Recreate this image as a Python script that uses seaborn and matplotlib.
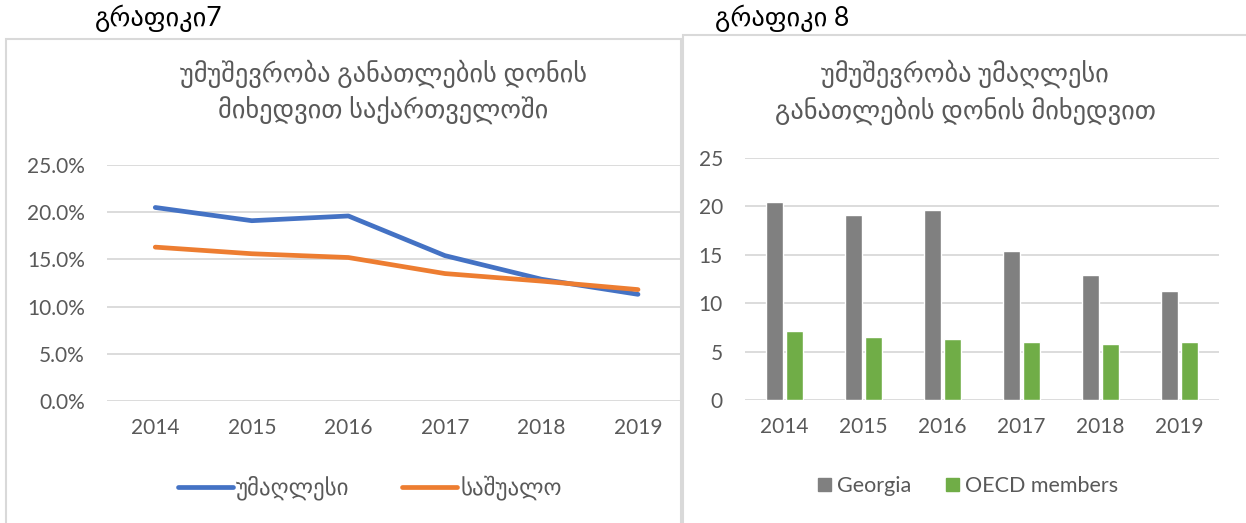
import pandas as pd
import numpy as np
import matplotlib.pyplot as plt
import seaborn as sns
from matplotlib.patches import Rectangle

sns.set_theme(style="white")
plt.rcParams['font.family'] = ['Lato', 'DejaVu Sans']

# data
years = ['2014', '2015', '2016', '2017', '2018', '2019']
umaghlesi = [20.5, 19.1, 19.6, 15.4, 12.9, 11.3]   # უმაღლესი, %
sashualo = [16.3, 15.6, 15.2, 13.5, 12.7, 11.8]    # საშუალო, %
georgia = [20.5, 19.1, 19.6, 15.4, 12.9, 11.3]
oecd = [7.1, 6.5, 6.3, 6.0, 5.8, 6.0]

line_names = ['უმაღლესი', 'საშუალო']
bar_names = ['Georgia', 'OECD members']

gray_txt = '#595959'
grid_c = '#d9d9d9'

df_line = pd.DataFrame({
    'year': years * 2,
    'x': list(range(len(years))) * 2,
    'val': [v / 100 for v in umaghlesi + sashualo],
    'group': [line_names[0]] * 6 + [line_names[1]] * 6,
})
df_bar = pd.DataFrame({
    'year': years * 2,
    'val': georgia + oecd,
    'group': [bar_names[0]] * 6 + [bar_names[1]] * 6,
})

fig = plt.figure(figsize=(12.46, 5.23), dpi=100)

# ramki
fig.patches.append(Rectangle((6 / 1246, -0.01), (681 - 6) / 1246, 1 - 39 / 523 + 0.01,
                             transform=fig.transFigure, fill=False, ec=grid_c, lw=1.5))
fig.patches.append(Rectangle((683 / 1246, -0.01), 0.5, 1 - 35 / 523 + 0.01,
                             transform=fig.transFigure, fill=False, ec=grid_c, lw=1.5))
fig.text(95 / 1246, 1 - 18 / 523, 'გრაფიკი7', fontsize=19, color='black', va='center')
fig.text(715 / 1246, 1 - 18 / 523, 'გრაფიკი 8', fontsize=19, color='black', va='center')

# lewy: wykres liniowy
ax1 = fig.add_axes([107 / 1246, 122 / 523, (680 - 107) / 1246, (401 - 165) / 523])
sns.lineplot(data=df_line, x='x', y='val', hue='group', ax=ax1,
             palette=['#4472C4', '#ED7D31'], linewidth=3.4, legend=False)
ax1.set_xlim(-0.5, 5.435)
ax1.set_ylim(0, 0.25)
ax1.set_yticks(np.arange(0, 0.26, 0.05))
ax1.set_yticklabels([f'{v * 100:.1f}%' for v in np.arange(0, 0.26, 0.05)])
ax1.set_xticks(range(len(years)))
ax1.set_xticklabels(years)
ax1.yaxis.grid(True, color=grid_c, lw=1.3)
ax1.set_axisbelow(True)
for s in ax1.spines.values():
    s.set_visible(False)
ax1.tick_params(axis='both', length=0, labelsize=15, colors=gray_txt)
ax1.tick_params(axis='x', pad=12)
ax1.tick_params(axis='y', pad=16)
ax1.set_xlabel('')
ax1.set_ylabel('')
fig.text(383 / 1246, 1 - 92 / 523, 'უმუშევრობა განათლების დონის\nმიხედვით საქართველოში',
         ha='center', va='center', fontsize=19, color=gray_txt, linespacing=1.38)
h1 = [plt.Line2D([], [], color=c, lw=3.4, solid_capstyle='round') for c in ['#4472C4', '#ED7D31']]
fig.legend(h1, line_names, loc='center', bbox_to_anchor=(370 / 1246, 1 - 488 / 523),
           ncol=2, frameon=False, fontsize=16.5, labelcolor=gray_txt,
           handlelength=2.4, handletextpad=0.15, columnspacing=2.3)

# prawy: wykres slupkowy
ax2 = fig.add_axes([745 / 1246, 123 / 523, 474 / 1246, (400 - 158) / 523])
sns.barplot(data=df_bar, x='year', y='val', hue='group', ax=ax2,
            palette=['#808080', '#70AD47'], saturation=1, width=0.51, gap=0.13, legend=False)
ax2.set_ylim(0, 25)
ax2.set_yticks(range(0, 26, 5))
ax2.yaxis.grid(True, color=grid_c, lw=1.3)
ax2.set_axisbelow(True)
for s in ax2.spines.values():
    s.set_visible(False)
ax2.tick_params(axis='both', length=0, labelsize=15, colors=gray_txt)
ax2.tick_params(axis='x', pad=12)
ax2.tick_params(axis='y', pad=16)
ax2.set_xlabel('')
ax2.set_ylabel('')
fig.text(965 / 1246, 1 - 92 / 523, 'უმუშევრობა უმაღლესი\nგანათლების დონის მიხედვით',
         ha='center', va='center', fontsize=19, color=gray_txt, linespacing=1.38)
h2 = [Rectangle((0, 0), 1, 1, color=c) for c in ['#808080', '#70AD47']]
fig.legend(h2, bar_names, loc='center', bbox_to_anchor=(968 / 1246, 1 - 486 / 523),
           ncol=2, frameon=False, fontsize=15.5, labelcolor=gray_txt,
           handlelength=0.6, handleheight=0.6, handletextpad=0.3, columnspacing=1.6)

plt.savefig('out.png', dpi=100)
